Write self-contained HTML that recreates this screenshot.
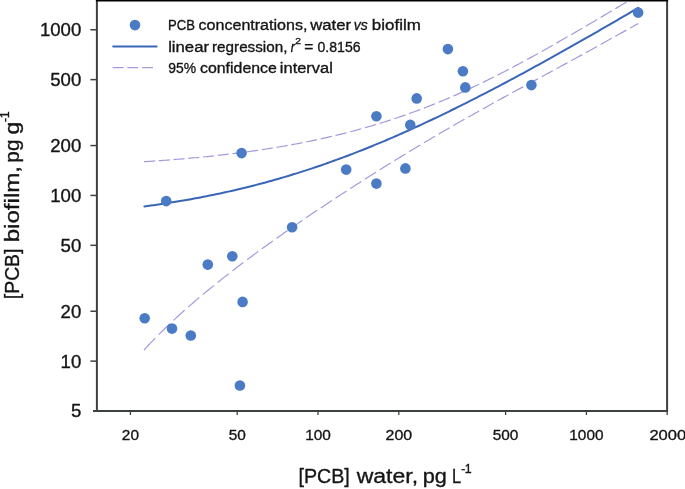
<!DOCTYPE html>
<html><head><meta charset="utf-8"><style>
html,body{margin:0;padding:0;background:#fff;}
body{width:685px;height:489px;overflow:hidden;}
svg{display:block;font-family:"Liberation Sans",sans-serif;will-change:transform;}
text{fill:#151515;stroke:#151515;stroke-width:0.35px;}
</style></head><body>
<svg width="685" height="489" viewBox="0 0 685 489">
<defs><clipPath id="pa"><rect x="97" y="0.75" width="570" height="410.25"/></clipPath></defs>

<g clip-path="url(#pa)" fill="none">
<path d="M144.00,161.71 L146.22,161.57 L148.44,161.42 L150.66,161.28 L152.88,161.13 L155.10,160.97 M158.73,160.72 L160.95,160.56 L163.17,160.40 L165.39,160.23 L167.61,160.07 L169.83,159.90 M173.46,159.61 L175.68,159.43 L177.90,159.25 L180.12,159.07 L182.34,158.88 L184.56,158.69 M188.19,158.37 L190.41,158.17 L192.63,157.97 L194.85,157.76 L197.07,157.56 L199.29,157.34 M202.92,156.99 L205.14,156.77 L207.36,156.54 L209.58,156.31 L211.80,156.08 L214.02,155.84 M217.65,155.44 L219.87,155.20 L222.09,154.95 L224.31,154.69 L226.53,154.43 L228.75,154.17 M232.38,153.73 L234.60,153.45 L236.82,153.17 L239.04,152.89 L241.26,152.60 L243.48,152.31 M247.11,151.82 L249.33,151.52 L251.55,151.21 L253.77,150.90 L255.99,150.58 L258.21,150.25 M261.84,149.71 L264.06,149.38 L266.28,149.03 L268.50,148.69 L270.72,148.33 L272.94,147.98 M276.57,147.38 L278.79,147.01 L281.01,146.63 L283.23,146.25 L285.45,145.86 L287.67,145.46 M291.30,144.81 L293.52,144.40 L295.74,143.98 L297.96,143.56 L300.18,143.14 L302.40,142.70 M306.03,141.98 L308.25,141.53 L310.47,141.08 L312.69,140.61 L314.91,140.15 L317.13,139.67 M320.76,138.88 L322.98,138.39 L325.20,137.89 L327.42,137.38 L329.64,136.87 L331.86,136.35 M335.49,135.49 L337.71,134.95 L339.93,134.41 L342.15,133.86 L344.37,133.30 L346.59,132.73 M350.22,131.79 L352.44,131.21 L354.66,130.61 L356.88,130.01 L359.10,129.41 L361.32,128.79 M364.95,127.77 L367.17,127.13 L369.39,126.49 L371.61,125.84 L373.83,125.18 L376.05,124.52 M379.68,123.41 L381.90,122.72 L384.12,122.03 L386.34,121.32 L388.56,120.61 L390.78,119.89 M394.41,118.69 L396.63,117.95 L398.85,117.20 L401.07,116.44 L403.29,115.67 L405.51,114.90 M409.14,113.61 L411.36,112.81 L413.58,112.00 L415.80,111.19 L418.02,110.36 L420.24,109.53 M423.87,108.15 L426.09,107.29 L428.31,106.42 L430.53,105.55 L432.75,104.66 L434.97,103.77 M438.60,102.29 L440.82,101.38 L443.04,100.45 L445.26,99.52 L447.48,98.58 L449.70,97.63 M453.33,96.05 L455.55,95.08 L457.77,94.10 L459.99,93.10 L462.21,92.10 L464.43,91.09 M468.06,89.43 L470.28,88.40 L472.50,87.36 L474.72,86.31 L476.94,85.25 L479.16,84.19 M482.79,82.43 L485.01,81.35 L487.23,80.26 L489.45,79.16 L491.67,78.05 L493.89,76.94 M497.52,75.10 L499.74,73.97 L501.96,72.83 L504.18,71.68 L506.40,70.53 L508.62,69.37 M512.25,67.46 L514.47,66.29 L516.69,65.11 L518.91,63.92 L521.13,62.73 L523.35,61.53 M526.98,59.56 L529.20,58.35 L531.42,57.14 L533.64,55.92 L535.86,54.69 L538.08,53.46 M541.71,51.44 L543.93,50.20 L546.15,48.96 L548.37,47.71 L550.59,46.45 L552.81,45.20 M556.44,43.14 L558.66,41.87 L560.88,40.60 L563.10,39.33 L565.32,38.06 L567.54,36.78 M571.17,34.68 L573.39,33.40 L575.61,32.11 L577.83,30.82 L580.05,29.53 L582.27,28.24 M585.90,26.11 L588.12,24.81 L590.34,23.51 L592.56,22.21 L594.78,20.90 L597.00,19.59 M600.63,17.45 L602.85,16.13 L605.07,14.82 L607.29,13.50 L609.51,12.19 L611.73,10.87 M615.36,8.71 L617.58,7.38 L619.80,6.06 L622.02,4.73 L624.24,3.41 L626.46,2.08 M630.09,-0.10 L631.73,-1.08 L633.37,-2.07 L635.02,-3.05 L636.66,-4.04 L638.30,-5.03" stroke="#a49ade" stroke-width="1.2"/>
<path d="M144.00,350.04 L146.22,347.62 L148.44,345.24 L150.66,342.89 L152.88,340.57 L155.10,338.29 M158.73,334.61 L160.95,332.40 L163.17,330.21 L165.39,328.04 L167.61,325.91 L169.83,323.79 M173.46,320.38 L175.68,318.32 L177.90,316.28 L180.12,314.26 L182.34,312.25 L184.56,310.27 M188.19,307.06 L190.41,305.12 L192.63,303.19 L194.85,301.28 L197.07,299.39 L199.29,297.51 M202.92,294.46 L205.14,292.61 L207.36,290.78 L209.58,288.96 L211.80,287.15 L214.02,285.35 M217.65,282.43 L219.87,280.66 L222.09,278.90 L224.31,277.15 L226.53,275.41 L228.75,273.68 M232.38,270.87 L234.60,269.17 L236.82,267.47 L239.04,265.78 L241.26,264.10 L243.48,262.43 M247.11,259.71 L249.33,258.05 L251.55,256.41 L253.77,254.77 L255.99,253.13 L258.21,251.51 M261.84,248.86 L264.06,247.25 L266.28,245.65 L268.50,244.06 L270.72,242.46 L272.94,240.88 M276.57,238.30 L278.79,236.73 L281.01,235.16 L283.23,233.60 L285.45,232.05 L287.67,230.50 M291.30,227.98 L293.52,226.44 L295.74,224.91 L297.96,223.38 L300.18,221.86 L302.40,220.34 M306.03,217.87 L308.25,216.36 L310.47,214.86 L312.69,213.36 L314.91,211.86 L317.13,210.37 M320.76,207.94 L322.98,206.46 L325.20,204.98 L327.42,203.51 L329.64,202.04 L331.86,200.58 M335.49,198.19 L337.71,196.73 L339.93,195.28 L342.15,193.83 L344.37,192.39 L346.59,190.95 M350.22,188.60 L352.44,187.16 L354.66,185.74 L356.88,184.31 L359.10,182.89 L361.32,181.47 M364.95,179.15 L367.17,177.74 L369.39,176.34 L371.61,174.93 L373.83,173.53 L376.05,172.14 M379.68,169.86 L381.90,168.47 L384.12,167.09 L386.34,165.70 L388.56,164.33 L390.78,162.95 M394.41,160.71 L396.63,159.34 L398.85,157.98 L401.07,156.62 L403.29,155.26 L405.51,153.91 M409.14,151.71 L411.36,150.36 L413.58,149.02 L415.80,147.68 L418.02,146.35 L420.24,145.02 M423.87,142.85 L426.09,141.53 L428.31,140.21 L430.53,138.90 L432.75,137.59 L434.97,136.28 M438.60,134.15 L440.82,132.85 L443.04,131.56 L445.26,130.27 L447.48,128.98 L449.70,127.70 M453.33,125.61 L455.55,124.33 L457.77,123.06 L459.99,121.79 L462.21,120.53 L464.43,119.26 M468.06,117.21 L470.28,115.95 L472.50,114.70 L474.72,113.45 L476.94,112.21 L479.16,110.97 M482.79,108.94 L485.01,107.71 L487.23,106.47 L489.45,105.24 L491.67,104.02 L493.89,102.79 M497.52,100.79 L499.74,99.57 L501.96,98.35 L504.18,97.14 L506.40,95.92 L508.62,94.71 M512.25,92.73 L514.47,91.52 L516.69,90.31 L518.91,89.10 L521.13,87.89 L523.35,86.69 M526.98,84.71 L529.20,83.51 L531.42,82.31 L533.64,81.10 L535.86,79.90 L538.08,78.69 M541.71,76.73 L543.93,75.52 L546.15,74.32 L548.37,73.11 L550.59,71.91 L552.81,70.70 M556.44,68.73 L558.66,67.52 L560.88,66.32 L563.10,65.11 L565.32,63.90 L567.54,62.69 M571.17,60.71 L573.39,59.50 L575.61,58.28 L577.83,57.07 L580.05,55.85 L582.27,54.64 M585.90,52.64 L588.12,51.42 L590.34,50.20 L592.56,48.98 L594.78,47.75 L597.00,46.53 M600.63,44.52 L602.85,43.29 L605.07,42.06 L607.29,40.82 L609.51,39.59 L611.73,38.35 M615.36,36.33 L617.58,35.09 L619.80,33.85 L622.02,32.61 L624.24,31.36 L626.46,30.12 M630.09,28.07 L631.73,27.15 L633.37,26.23 L635.02,25.30 L636.66,24.37 L638.30,23.44" stroke="#a49ade" stroke-width="1.2"/>
<path d="M144.40,206.46 L147.51,206.04 L150.61,205.61 L153.72,205.17 L156.83,204.72 L159.93,204.27 L163.04,203.80 L166.14,203.33 L169.25,202.84 L172.36,202.35 L175.46,201.84 L178.57,201.33 L181.68,200.80 L184.78,200.27 L187.89,199.72 L190.99,199.16 L194.10,198.60 L197.21,198.02 L200.31,197.43 L203.42,196.83 L206.53,196.22 L209.63,195.60 L212.74,194.97 L215.84,194.33 L218.95,193.67 L222.06,193.01 L225.16,192.33 L228.27,191.64 L231.38,190.94 L234.48,190.22 L237.59,189.50 L240.69,188.76 L243.80,188.01 L246.91,187.25 L250.01,186.47 L253.12,185.69 L256.23,184.89 L259.33,184.08 L262.44,183.25 L265.55,182.41 L268.65,181.57 L271.76,180.70 L274.86,179.83 L277.97,178.94 L281.08,178.04 L284.18,177.13 L287.29,176.20 L290.40,175.27 L293.50,174.32 L296.61,173.35 L299.71,172.38 L302.82,171.39 L305.93,170.38 L309.03,169.37 L312.14,168.34 L315.25,167.30 L318.35,166.25 L321.46,165.18 L324.56,164.11 L327.67,163.02 L330.78,161.91 L333.88,160.80 L336.99,159.67 L340.10,158.53 L343.20,157.38 L346.31,156.21 L349.42,155.03 L352.52,153.85 L355.63,152.64 L358.73,151.43 L361.84,150.21 L364.95,148.97 L368.05,147.72 L371.16,146.46 L374.27,145.19 L377.37,143.91 L380.48,142.62 L383.58,141.31 L386.69,139.99 L389.80,138.67 L392.90,137.33 L396.01,135.98 L399.12,134.62 L402.22,133.25 L405.33,131.87 L408.43,130.48 L411.54,129.08 L414.65,127.67 L417.75,126.25 L420.86,124.82 L423.97,123.38 L427.07,121.93 L430.18,120.47 L433.28,119.01 L436.39,117.53 L439.50,116.04 L442.60,114.55 L445.71,113.05 L448.82,111.53 L451.92,110.01 L455.03,108.49 L458.14,106.95 L461.24,105.40 L464.35,103.85 L467.45,102.29 L470.56,100.72 L473.67,99.15 L476.77,97.56 L479.88,95.97 L482.99,94.37 L486.09,92.77 L489.20,91.16 L492.30,89.54 L495.41,87.91 L498.52,86.28 L501.62,84.64 L504.73,83.00 L507.84,81.35 L510.94,79.69 L514.05,78.03 L517.15,76.36 L520.26,74.69 L523.37,73.01 L526.47,71.32 L529.58,69.63 L532.69,67.93 L535.79,66.23 L538.90,64.53 L542.01,62.82 L545.11,61.10 L548.22,59.38 L551.32,57.65 L554.43,55.92 L557.54,54.19 L560.64,52.45 L563.75,50.71 L566.86,48.96 L569.96,47.21 L573.07,45.45 L576.17,43.69 L579.28,41.93 L582.39,40.16 L585.49,38.39 L588.60,36.62 L591.71,34.84 L594.81,33.06 L597.92,31.28 L601.02,29.49 L604.13,27.70 L607.24,25.91 L610.34,24.11 L613.45,22.31 L616.56,20.51 L619.66,18.70 L622.77,16.89 L625.87,15.08 L628.98,13.27 L632.09,11.45 L635.19,9.63 L638.30,7.81" stroke="#3a66b8" stroke-width="2.0" stroke-linecap="round"/>
</g>
<g fill="#4a7bc4">
<circle cx="144.7" cy="318.2" r="5.3"/>
<circle cx="166.2" cy="201.1" r="5.3"/>
<circle cx="172.0" cy="328.6" r="5.3"/>
<circle cx="190.8" cy="335.5" r="5.3"/>
<circle cx="207.8" cy="264.6" r="5.3"/>
<circle cx="232.3" cy="256.2" r="5.3"/>
<circle cx="239.9" cy="385.5" r="5.3"/>
<circle cx="241.6" cy="153.1" r="5.3"/>
<circle cx="242.6" cy="301.9" r="5.3"/>
<circle cx="292.1" cy="227.2" r="5.3"/>
<circle cx="346.2" cy="169.6" r="5.3"/>
<circle cx="376.4" cy="116.3" r="5.3"/>
<circle cx="376.4" cy="183.6" r="5.3"/>
<circle cx="405.4" cy="168.4" r="5.3"/>
<circle cx="410.3" cy="124.9" r="5.3"/>
<circle cx="416.7" cy="98.4" r="5.3"/>
<circle cx="447.9" cy="49.1" r="5.3"/>
<circle cx="462.9" cy="71.2" r="5.3"/>
<circle cx="465.3" cy="87.4" r="5.3"/>
<circle cx="531.4" cy="85.1" r="5.3"/>
<circle cx="638.1" cy="12.6" r="5.3"/>
</g>
<path d="M96.9,0 V411.9 M667.1,0 V411.9 M93,410.9 H668.1" stroke="#3e4141" stroke-width="2" fill="none"/>
<line x1="90.4" y1="29.76" x2="97" y2="29.76" stroke="#3e4141" stroke-width="1.5"/>
<text x="81.3" y="36.26" text-anchor="end" font-size="18.6" fill="#111">1000</text>
<line x1="90.4" y1="79.63" x2="97" y2="79.63" stroke="#3e4141" stroke-width="1.5"/>
<text x="81.3" y="86.13" text-anchor="end" font-size="18.6" fill="#111">500</text>
<line x1="90.4" y1="145.57" x2="97" y2="145.57" stroke="#3e4141" stroke-width="1.5"/>
<text x="81.3" y="152.07" text-anchor="end" font-size="18.6" fill="#111">200</text>
<line x1="90.4" y1="195.44" x2="97" y2="195.44" stroke="#3e4141" stroke-width="1.5"/>
<text x="81.3" y="201.94" text-anchor="end" font-size="18.6" fill="#111">100</text>
<line x1="90.4" y1="245.31" x2="97" y2="245.31" stroke="#3e4141" stroke-width="1.5"/>
<text x="81.3" y="251.81" text-anchor="end" font-size="18.6" fill="#111">50</text>
<line x1="90.4" y1="311.25" x2="97" y2="311.25" stroke="#3e4141" stroke-width="1.5"/>
<text x="81.3" y="317.75" text-anchor="end" font-size="18.6" fill="#111">20</text>
<line x1="90.4" y1="361.12" x2="97" y2="361.12" stroke="#3e4141" stroke-width="1.5"/>
<text x="81.3" y="367.62" text-anchor="end" font-size="18.6" fill="#111">10</text>
<text x="81.3" y="417.49" text-anchor="end" font-size="18.6" fill="#111">5</text>
<line x1="130.40" y1="411" x2="130.40" y2="415" stroke="#3e4141" stroke-width="1.3"/>
<text x="130.40" y="440.4" text-anchor="middle" font-size="15.4">20</text>
<line x1="237.20" y1="411" x2="237.20" y2="415" stroke="#3e4141" stroke-width="1.3"/>
<text x="237.20" y="440.4" text-anchor="middle" font-size="15.4">50</text>
<line x1="318.00" y1="411" x2="318.00" y2="415" stroke="#3e4141" stroke-width="1.3"/>
<text x="318.00" y="440.4" text-anchor="middle" font-size="15.4">100</text>
<line x1="398.80" y1="411" x2="398.80" y2="415" stroke="#3e4141" stroke-width="1.3"/>
<text transform="translate(398.85,440.4) scale(1.035,1)" text-anchor="middle" font-size="15.4">200</text>
<line x1="505.60" y1="411" x2="505.60" y2="415" stroke="#3e4141" stroke-width="1.3"/>
<text x="505.60" y="440.4" text-anchor="middle" font-size="15.4">500</text>
<line x1="586.40" y1="411" x2="586.40" y2="415" stroke="#3e4141" stroke-width="1.3"/>
<text x="586.40" y="440.4" text-anchor="middle" font-size="15.4">1000</text>
<line x1="667.20" y1="411" x2="667.20" y2="415" stroke="#3e4141" stroke-width="1.3"/>
<text transform="translate(667.80,440.4) scale(1.075,1)" text-anchor="middle" font-size="15.4">2000</text>
<circle cx="135" cy="25.1" r="5.3" fill="#4a7bc4"/>
<line x1="113.2" y1="46.5" x2="156.6" y2="46.5" stroke="#3a66b8" stroke-width="2.0" stroke-linecap="round"/>
<path d="M112.6,67.6 H123.6 M127.3,67.6 H138.2 M142.2,67.6 H153" stroke="#a49ade" stroke-width="1.2"/>
<g font-size="15.3">
<text transform="translate(168.12,30.3) scale(0.8546,1)">PCB</text>
<text transform="translate(198.56,30.3) scale(1.0501,1)">concentrations,</text>
<text transform="translate(310.18,30.3) scale(1.0914,1)">water</text>
<text transform="translate(353.79,30.3) scale(0.9216,1)" font-style="italic">vs</text>
<text transform="translate(371.84,30.3) scale(1.1092,1)">biofilm</text>
<text transform="translate(168.15,51.8) scale(1.0922,1)">linear</text>
<text transform="translate(212.03,51.8) scale(0.9965,1)">regression,</text>
<text transform="translate(290.80,51.8) scale(0.8266,1)" font-style="italic">r</text>
<text transform="translate(304.27,51.8) scale(1.0189,1)">=</text>
<text transform="translate(317.52,51.8) scale(0.9203,1)">0.8156</text>
<text transform="translate(168.33,72.6) scale(0.9084,1)">95%</text>
<text transform="translate(199.96,72.6) scale(1.0400,1)">confidence</text>
<text transform="translate(279.87,72.6) scale(1.0750,1)">interval</text>
<text transform="translate(295.23,43.9) scale(1.0947,1)" font-size="9.4">2</text>
</g>
<text transform="translate(298.43,483.2) scale(0.9359,1)" font-size="21">[PCB]</text>
<text transform="translate(356.67,483.2) scale(1.0972,1)" font-size="21">water,</text>
<text transform="translate(422.81,483.2) scale(1.0333,1)" font-size="21">pg</text>
<text transform="translate(451.93,483.2) scale(0.7795,1)" font-size="21">L</text>
<text x="461.3" y="473.4" font-size="12.4" letter-spacing="-0.6">-1</text>
<text transform="translate(19.3,299.15) rotate(-90) scale(0.9225,1)" font-size="21">[PCB]</text>
<text transform="translate(19.3,242.34) rotate(-90) scale(1.1496,1)" font-size="21">biofilm,</text>
<text transform="translate(19.3,162.63) rotate(-90) scale(0.9857,1)" font-size="21">pg</text>
<text transform="translate(19.3,134.42) rotate(-90) scale(1.0974,1)" font-size="21">g</text>
<g transform="translate(9.2,0) rotate(-90)"><text x="-121.9" y="0" font-size="12.4" fill="#111" letter-spacing="-0.6">-1</text></g>
<path d="M95.9,0.7 H668.1" stroke="#000" stroke-width="1.4"/>
</svg></body></html>
